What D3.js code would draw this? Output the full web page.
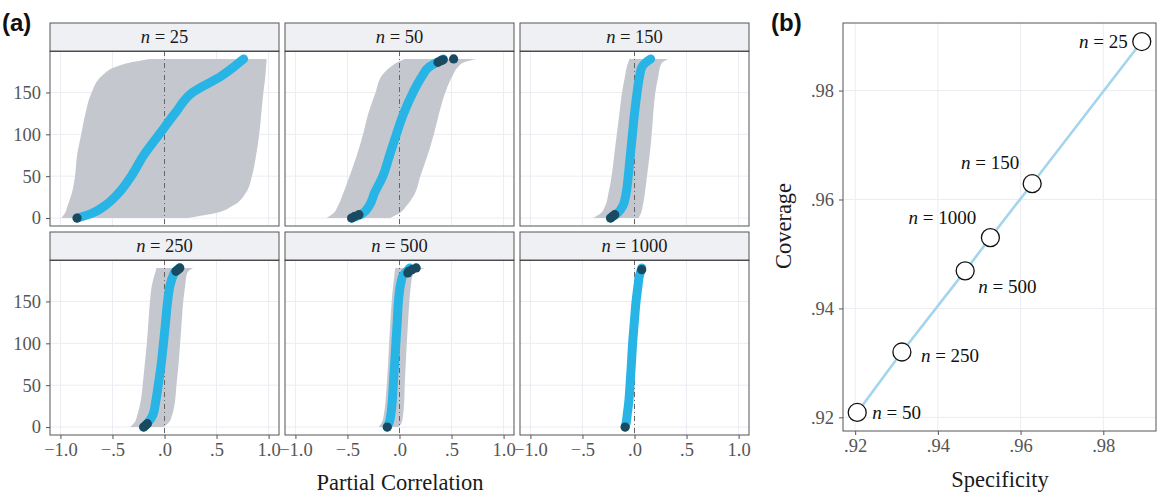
<!DOCTYPE html>
<html>
<head>
<meta charset="utf-8">
<script src="https://cdn.jsdelivr.net/npm/d3@7"></script>
<style>
body { margin: 0; background: #fff; }
</style>
</head>
<body>
<svg id="chart" width="1158" height="498"></svg>
<script>
// ---- data ----
var sampleSizes = [25, 50, 150, 250, 500, 1000];
var ranks = [0, 5, 15, 30, 50, 75, 100, 125, 150, 170, 180, 186, 190];

// sorted partial correlation estimates at each rank
var est25   = [-0.84, -0.71, -0.57, -0.44, -0.32, -0.20, -0.05, 0.10, 0.27, 0.55, 0.66, 0.72, 0.76];
var est50   = [-0.46, -0.36, -0.29, -0.24, -0.16, -0.095, -0.03, 0.04, 0.13, 0.22, 0.28, 0.36, 0.42];
var est150  = [-0.23, -0.17, -0.11, -0.08, -0.06, -0.04, -0.02, 0.0, 0.025, 0.05, 0.07, 0.11, 0.155];
var est250  = [-0.20, -0.16, -0.11, -0.085, -0.06, -0.032, -0.01, 0.01, 0.03, 0.055, 0.08, 0.105, 0.145];
var est500  = [-0.12, -0.10, -0.083, -0.07, -0.06, -0.047, -0.035, -0.022, -0.01, 0.01, 0.03, 0.07, 0.10];
var est1000 = [-0.09, -0.08, -0.07, -0.055, -0.043, -0.03, -0.018, -0.002, 0.015, 0.035, 0.046, 0.06, 0.07];

// interval bounds
var lower25   = [-0.99, -0.96, -0.93, -0.89, -0.86, -0.84, -0.80, -0.76, -0.70, -0.60, -0.48, -0.32, -0.14];
var upper25   = [0.22, 0.46, 0.66, 0.78, 0.84, 0.88, 0.91, 0.93, 0.95, 0.97, 0.975, 0.98, 0.98];
var lower50   = [-0.70, -0.64, -0.59, -0.54, -0.48, -0.41, -0.35, -0.30, -0.23, -0.17, -0.09, -0.02, 0.05];
var upper50   = [-0.09, -0.01, 0.07, 0.15, 0.20, 0.27, 0.33, 0.38, 0.44, 0.51, 0.56, 0.62, 0.74];
var lower150  = [-0.40, -0.33, -0.28, -0.25, -0.22, -0.195, -0.17, -0.145, -0.12, -0.09, -0.075, -0.06, -0.05];
var upper150  = [0.04, 0.06, 0.08, 0.10, 0.12, 0.145, 0.165, 0.18, 0.20, 0.23, 0.245, 0.27, 0.325];
var lower250  = [-0.33, -0.29, -0.26, -0.23, -0.21, -0.19, -0.17, -0.155, -0.14, -0.12, -0.10, -0.085, -0.08];
var upper250  = [-0.01, 0.04, 0.075, 0.10, 0.115, 0.135, 0.15, 0.165, 0.18, 0.20, 0.21, 0.23, 0.275];
var lower500  = [-0.20, -0.17, -0.15, -0.135, -0.123, -0.11, -0.10, -0.088, -0.075, -0.06, -0.05, -0.045, -0.04];
var upper500  = [-0.01, 0.02, 0.035, 0.045, 0.05, 0.06, 0.07, 0.082, 0.095, 0.11, 0.125, 0.16, 0.245];
var lower1000 = [-0.125, -0.11, -0.10, -0.085, -0.075, -0.062, -0.05, -0.035, -0.018, 0.0, 0.012, 0.025, 0.035];
var upper1000 = [-0.055, -0.045, -0.035, -0.025, -0.012, 0.002, 0.015, 0.03, 0.048, 0.068, 0.08, 0.095, 0.105];

// estimates whose interval excludes zero: [rank, value]
var sig25   = [[0, -0.84]];
var sig50   = [[0, -0.46], [2, -0.43], [4, -0.39], [186, 0.37], [188, 0.40], [189, 0.42], [190, 0.52]];
var sig150  = [[0, -0.23], [2, -0.21], [4, -0.19]];
var sig250  = [[0, -0.20], [2, -0.18], [4, -0.165], [186, 0.11], [188, 0.13], [190, 0.147]];
var sig500  = [[0, -0.117], [184, 0.08], [186, 0.09], [188, 0.12], [190, 0.16]];
var sig1000 = [[0, -0.09], [188, 0.069]];

var xTicks = [-1, -0.5, 0, 0.5, 1];
var xTickLabels = ["\u22121.0", "\u2212.5", ".0", ".5", "1.0"];
var yTicks = [0, 50, 100, 150];

// panel (b)
var specificity = [0.9893, 0.9205, 0.9628, 0.9313, 0.9466, 0.9527];
var coverage    = [0.9890, 0.9209, 0.9629, 0.9320, 0.9469, 0.9530];
var bTicks = [0.92, 0.94, 0.96, 0.98];
var bTickLabels = [".92", ".94", ".96", ".98"];

// ---- drawing ----
var svg = d3.select('#chart');
var serif = '"Liberation Serif", "Times New Roman", serif';
var sans = '"Liberation Sans", Arial, sans-serif';
var grid = '#ebedf2', border = '#555', tickCol = '#555';

var ests = [est25, est50, est150, est250, est500, est1000];
var lows = [lower25, lower50, lower150, lower250, lower500, lower1000];
var ups = [upper25, upper50, upper150, upper250, upper500, upper1000];
var sigs = [sig25, sig50, sig150, sig250, sig500, sig1000];

var panelW = 229, plotH = 175, stripH = 28;
var colX = [50, 285, 520];
var rowY = [23, 232];

var x = d3.scaleLinear().domain([-1.1, 1.1]).range([0, panelW]);
var y = d3.scaleLinear().domain([-9.5, 199.5]).range([plotH, 0]);

function nLabel(sel, n) {
	sel.append('tspan').style('font-style', 'italic').text('n');
	sel.append('tspan').text(' = ' + n);
}

function styleAxis(a) {
	a.select('.domain').remove();
	a.selectAll('line').attr('stroke', tickCol);
	a.selectAll('text').style('font-family', serif).style('font-size', '18.5px').attr('fill', tickCol);
}

sampleSizes.forEach(function (n, i) {
	var col = i % 3, row = Math.floor(i / 3);
	var g = svg.append('g').attr('transform', 'translate(' + colX[col] + ',' + (rowY[row] + stripH) + ')');

	// strip
	var strip = svg.append('g').attr('transform', 'translate(' + colX[col] + ',' + rowY[row] + ')');
	strip.append('rect').attr('width', panelW).attr('height', stripH).attr('fill', '#eef0f4').attr('stroke', border);
	strip.append('text').attr('x', panelW / 2).attr('y', stripH / 2).attr('dy', '.35em')
		.attr('text-anchor', 'middle').style('font-family', serif).style('font-size', '18.5px')
		.attr('fill', '#1a1a1a')
		.call(nLabel, n);

	// grid
	g.selectAll('.gx').data(xTicks).enter().append('line')
		.attr('x1', x).attr('x2', x).attr('y1', 0).attr('y2', plotH)
		.attr('stroke', grid);
	g.selectAll('.gy').data(yTicks).enter().append('line')
		.attr('y1', y).attr('y2', y).attr('x1', 0).attr('x2', panelW)
		.attr('stroke', grid);

	var rows = ranks.map(function (r, k) {
		return { r: r, est: ests[i][k], lo: lows[i][k], hi: ups[i][k] };
	});

	var area = d3.area()
		.y(function (d) { return y(d.r); })
		.x0(function (d) { return x(d.lo); })
		.x1(function (d) { return x(d.hi); })
		.curve(d3.curveMonotoneY);
	g.append('path').datum(rows).attr('d', area).attr('fill', '#c4c8ce');

	// reference line at zero
	g.append('line').attr('x1', x(0)).attr('x2', x(0)).attr('y1', 0).attr('y2', plotH)
		.attr('stroke', '#666').attr('stroke-dasharray', '5,3,1,3');

	var line = d3.line()
		.y(function (d) { return y(d.r); })
		.x(function (d) { return x(d.est); })
		.curve(d3.curveMonotoneY);
	g.append('path').datum(rows).attr('d', line)
		.attr('fill', 'none').attr('stroke', '#29b4e6').attr('stroke-width', 9)
		.attr('stroke-linecap', 'round').attr('stroke-linejoin', 'round');

	g.selectAll('.sig').data(sigs[i]).enter().append('circle')
		.attr('cx', function (d) { return x(d[1]); })
		.attr('cy', function (d) { return y(d[0]); })
		.attr('r', 4.6).attr('fill', '#1a4a60');

	g.append('rect').attr('width', panelW).attr('height', plotH)
		.attr('fill', 'none').attr('stroke', border);
	g.append('line').attr('x1', 0).attr('x2', panelW).attr('y1', 0).attr('y2', 0)
		.attr('stroke', '#222').attr('stroke-width', 1.3);

	if (col === 0) {
		g.append('g').call(d3.axisLeft(y).tickValues(yTicks).tickSize(4).tickPadding(5)).call(styleAxis);
	}
	if (row === 1) {
		g.append('g').attr('transform', 'translate(0,' + plotH + ')')
			.call(d3.axisBottom(x).tickValues(xTicks).tickSize(4).tickPadding(4)
				.tickFormat(function (d, k) { return xTickLabels[k]; }))
			.call(styleAxis);
	}
});

svg.append('text').attr('x', 400).attr('y', 490).attr('text-anchor', 'middle')
	.style('font-family', serif).style('font-size', '22.5px').attr('fill', '#1a1a1a').text('Partial Correlation');

svg.append('text').attr('x', 2).attr('y', 31).style('font-family', sans).style('font-size', '24px')
	.style('font-weight', 'bold').attr('fill', '#111').text('(a)');

// ---- panel (b) ----
var bL = 843, bT = 23, bW = 313, bH = 408;
var gb = svg.append('g').attr('transform', 'translate(' + bL + ',' + bT + ')');
var xe = d3.extent(specificity), ye = d3.extent(coverage);
var xp = (xe[1] - xe[0]) * 0.05, yp = (ye[1] - ye[0]) * 0.05;
var bx = d3.scaleLinear().domain([xe[0] - xp, xe[1] + xp]).range([0, bW]);
var by = d3.scaleLinear().domain([ye[0] - yp, ye[1] + yp]).range([bH, 0]);

gb.selectAll('.gx').data(bTicks).enter().append('line')
	.attr('x1', bx).attr('x2', bx).attr('y1', 0).attr('y2', bH).attr('stroke', grid);
gb.selectAll('.gy').data(bTicks).enter().append('line')
	.attr('y1', by).attr('y2', by).attr('x1', 0).attr('x2', bW).attr('stroke', grid);

var pts = sampleSizes.map(function (n, k) {
	return { n: n, s: specificity[k], c: coverage[k] };
});
var sorted = pts.slice().sort(function (a, b) { return a.s - b.s; });
gb.append('path').datum(sorted)
	.attr('d', d3.line().x(function (d) { return bx(d.s); }).y(function (d) { return by(d.c); }))
	.attr('fill', 'none').attr('stroke', '#a4d5ec').attr('stroke-width', 2.6);

gb.selectAll('.pt').data(pts).enter().append('circle')
	.attr('cx', function (d) { return bx(d.s); })
	.attr('cy', function (d) { return by(d.c); })
	.attr('r', 9).attr('fill', '#fff').attr('stroke', '#111').attr('stroke-width', 1.3);

var labelPos = {
	25: [-14, 0, 'end'], 50: [15, 0, 'start'], 150: [-42, -21, 'middle'],
	250: [19, 3, 'start'], 500: [13, 16, 'start'], 1000: [-48, -20, 'middle']
};
gb.selectAll('.lab').data(pts).enter().append('text')
	.attr('x', function (d) { return bx(d.s) + labelPos[d.n][0]; })
	.attr('y', function (d) { return by(d.c) + labelPos[d.n][1]; })
	.attr('dy', '.35em')
	.attr('text-anchor', function (d) { return labelPos[d.n][2]; })
	.style('font-family', serif).style('font-size', '19px').attr('fill', '#111')
	.each(function (d) { nLabel(d3.select(this), d.n); });

gb.append('rect').attr('width', bW).attr('height', bH).attr('fill', 'none').attr('stroke', border);

gb.append('g').attr('transform', 'translate(0,' + bH + ')')
	.call(d3.axisBottom(bx).tickValues(bTicks).tickSize(4).tickPadding(4)
		.tickFormat(function (d, k) { return bTickLabels[k]; }))
	.call(styleAxis);
gb.append('g')
	.call(d3.axisLeft(by).tickValues(bTicks).tickSize(4).tickPadding(5)
		.tickFormat(function (d, k) { return bTickLabels[k]; }))
	.call(styleAxis);

svg.append('text').attr('x', 1000).attr('y', 487).attr('text-anchor', 'middle')
	.style('font-family', serif).style('font-size', '22.5px').attr('fill', '#1a1a1a').text('Specificity');
svg.append('text').attr('transform', 'translate(791,226) rotate(-90)').attr('text-anchor', 'middle')
	.style('font-family', serif).style('font-size', '22.5px').attr('fill', '#1a1a1a').text('Coverage');

svg.append('text').attr('x', 771).attr('y', 31).style('font-family', sans).style('font-size', '24px')
	.style('font-weight', 'bold').attr('fill', '#111').text('(b)');
</script>
</body>
</html>
